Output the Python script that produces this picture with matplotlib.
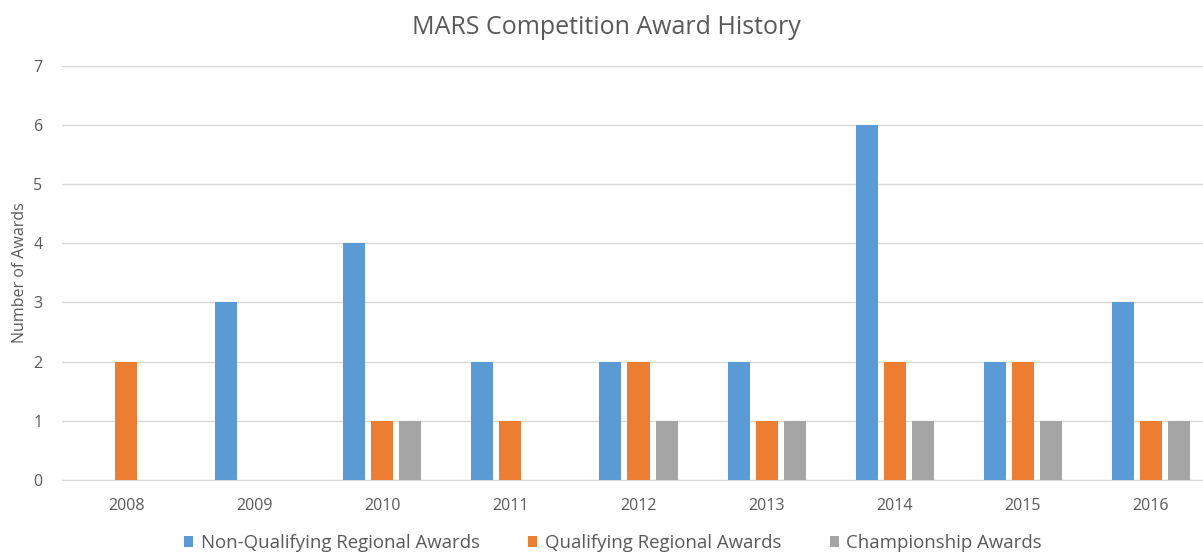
import matplotlib.pyplot as plt
import numpy as np

years = ["2008", "2009", "2010", "2011", "2012", "2013", "2014", "2015", "2016"]
non_qualifying = [0, 3, 4, 2, 2, 2, 6, 2, 3]
qualifying = [2, 0, 1, 1, 2, 1, 2, 2, 1]
championship = [0, 0, 1, 0, 1, 1, 1, 1, 1]

SERIES = [
    ("Non-Qualifying Regional Awards", non_qualifying, "#5B9BD5"),
    ("Qualifying Regional Awards", qualifying, "#ED7D31"),
    ("Championship Awards", championship, "#A5A5A5"),
]
TEXT = "#595959"
GRID = "#D9D9D9"

plt.rcParams["font.family"] = ["Open Sans", "DejaVu Sans"]

W, H = 1203, 554
fig = plt.figure(figsize=(W / 100, H / 100), dpi=100)
# plot area runs a little past the right edge of the picture, as in the source
left, right, bottom, top = 62, 1215, 480, 65.7
ax = fig.add_axes([left / W, (H - bottom) / H, (right - left) / W, (bottom - top) / H])

x = np.arange(len(years))
bar_w = 22 / 128
step = 28 / 128
for i, (label, vals, color) in enumerate(SERIES):
    ax.bar(x + (i - 1) * step, vals, width=bar_w, color=color, label=label, zorder=3)

ax.set_xlim(-0.5, len(years) - 0.5)
ax.set_ylim(0, 7)
ax.set_yticks(range(0, 8))
ax.set_xticks(x)
ax.set_xticklabels(years)
ax.grid(axis="y", color=GRID, lw=1, zorder=0)
for side in ("top", "right", "left"):
    ax.spines[side].set_visible(False)
ax.spines["bottom"].set_color(GRID)
ax.tick_params(length=0, colors=TEXT, labelsize=11.5)
ax.tick_params(axis="y", pad=14)
ax.tick_params(axis="x", pad=13)
ax.set_ylabel("Number of Awards", fontsize=11.5, color=TEXT, labelpad=4)

fig.text(606 / W, 1 - 27 / H, "MARS Competition Award History", ha="center",
         va="center", fontsize=18, color=TEXT)

fig.legend(loc="center", bbox_to_anchor=(613 / W, 1 - 543 / H), ncol=3,
           frameon=False, fontsize=13.4, labelcolor=TEXT, handlelength=0.5,
           handleheight=0.5, handletextpad=0.4, columnspacing=2.6)

fig.savefig("out.png", dpi=100)
